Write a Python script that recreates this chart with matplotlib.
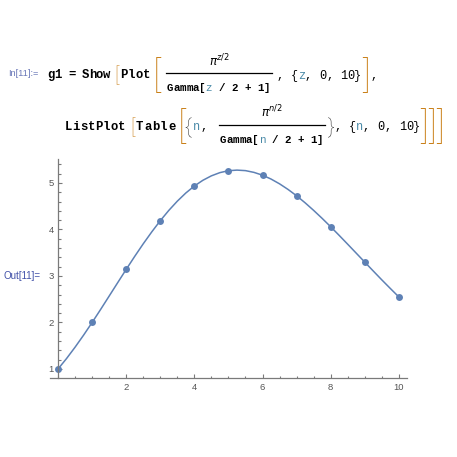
"""Mathematica notebook cell: unit-ball volume pi^(n/2)/Gamma(n/2+1)."""
import matplotlib
matplotlib.use("Agg")
import matplotlib.pyplot as plt
from matplotlib.ticker import MultipleLocator

W, H = 457, 457

# curve values, z = 0 .. 10 in steps of 0.25
curve_z = [i * 0.25 for i in range(41)]
curve_v = [1.000, 1.225, 1.469, 1.728, 2.000, 2.281, 2.568, 2.856,
           3.142, 3.422, 3.692, 3.948, 4.189, 4.410, 4.609, 4.785,
           4.935, 5.058, 5.154, 5.223, 5.264, 5.277, 5.266, 5.228,
           5.168, 5.085, 4.982, 4.861, 4.725, 4.574, 4.411, 4.239,
           4.059, 3.873, 3.683, 3.491, 3.299, 3.107, 2.917, 2.732,
           2.550]
# ListPlot points, n = 0 .. 10
pts_n = [0, 1, 2, 3, 4, 5, 6, 7, 8, 9, 10]
pts_v = [1.000, 2.000, 3.142, 4.189, 4.935, 5.264, 5.168, 4.725, 4.059,
         3.299, 2.550]
xticks = [2, 4, 6, 8, 10]
yticks = [1, 2, 3, 4, 5]

BLUE = "#5e81b5"
ORANGE = "#c97f16"
TEAL = "#4a8aa8"
MONO = "Liberation Mono"

fig = plt.figure(figsize=(W / 100, H / 100), dpi=100)
fig.patch.set_facecolor("white")


def P(x, y):
    return x / W, 1 - y / H


def txt(x, y, s, size=8.6, color="black", weight="bold", family=MONO,
        ha="left"):
    fig.text(*P(x, y), s, fontsize=size, color=color, weight=weight,
             family=family, ha=ha, va="center")


def mono(x, y, parts, pitch, size=8.8):
    # lay out (text, colour, weight) pieces one character at a time
    for s, color, weight in parts:
        for ch in s:
            if ch != " ":
                txt(x, y, ch, size=size, color=color, weight=weight)
            x += pitch


def bracket(x, y, ch, size, color=ORANGE):
    txt(x, y, ch, size=size, color=color, weight="light",
        family="Roboto", ha="center")


# ---- input cell text ----
txt(8, 74, "In[11]:=", size=6.6, color="#6a78b8", weight="normal",
    family="Liberation Sans")
mono(47, 75, [("g1 = Show", "black", "bold")], 7.0)
bracket(116, 76, "[", 14.5)
mono(120, 75, [("Plot", "black", "bold")], 7.6)
bracket(157, 77, "[", 26)
txt(219, 61, r"$\pi^{z/2}$", size=8.5, weight="normal",
    family="DejaVu Serif", ha="center")
fig.add_artist(plt.Line2D([166 / W, 272 / W], [1 - 73 / H, 1 - 73 / H],
                          color="black", lw=0.9))
mono(167, 88, [("Gamma[", "black", "bold"), ("z", TEAL, "normal"),
               (" / 2 + 1]", "black", "bold")], 6.45, size=7.8)
mono(277, 76, [(", ", "black", "normal"), ("{", "black", "normal"),
               ("z", TEAL, "normal"), (", 0, 10}", "black", "normal")],
     7.0, size=8.6)
bracket(366, 77, "]", 26)
txt(371, 76, ",", size=8.6, weight="normal")

mono(65, 127, [("ListPlot", "black", "bold")], 7.6)
bracket(132, 128, "[", 14.5)
mono(136, 127, [("Table", "black", "bold")], 8.0)
bracket(182, 128, "[", 26)
bracket(188, 128, "{", 15, color="#333333")
mono(193, 127, [("n", TEAL, "normal"), (",", "black", "normal")], 7.0,
     size=8.6)
txt(272, 112, r"$\pi^{n/2}$", size=8.5, weight="normal",
    family="DejaVu Serif", ha="center")
fig.add_artist(plt.Line2D([219 / W, 325 / W], [1 - 125 / H, 1 - 125 / H],
                          color="black", lw=0.9))
mono(220, 140, [("Gamma[", "black", "bold"), ("n", TEAL, "normal"),
                (" / 2 + 1]", "black", "bold")], 6.45, size=7.8)
bracket(330, 128, "}", 15, color="#333333")
mono(334, 127, [(", ", "black", "normal"), ("{", "black", "normal"),
                ("n", TEAL, "normal"), (", 0, 10}", "black", "normal")],
     7.2, size=8.6)
for bx in (424, 432, 440):
    bracket(bx, 128, "]", 26)

txt(4, 276, "Out[11]=", size=7, color="#4050a8", weight="normal",
    family="Liberation Sans")

# ---- the graphic ----
x0, x1 = -0.23, 10.24
y0, y1 = 0.806, 5.516
ax = fig.add_axes([50.2 / W, 1 - 378 / H, (407 - 50.2) / W, (378 - 159) / H])
ax.set_xlim(x0, x1)
ax.set_ylim(y0, y1)

ax.plot(curve_z, curve_v, color=BLUE, lw=1.1, solid_capstyle="round",
        clip_on=False)
ax.plot(pts_n, pts_v, "o", color=BLUE, ms=5, mec="none", clip_on=False)

axis_col = "#7a7a7a"
for s in ("top", "right"):
    ax.spines[s].set_visible(False)
ax.spines["left"].set_position(("data", 0))
for s in ("left", "bottom"):
    ax.spines[s].set_color(axis_col)
    ax.spines[s].set_linewidth(0.9)

ax.set_xticks(xticks)
ax.set_yticks(yticks)
ax.xaxis.set_minor_locator(MultipleLocator(0.5))
ax.yaxis.set_minor_locator(MultipleLocator(0.2))
ax.tick_params(which="both", direction="in", color=axis_col, width=0.8,
               labelsize=6.8, labelcolor="#555555")
ax.tick_params(which="major", length=3)
ax.tick_params(which="minor", length=1.8)
ax.tick_params(axis="x", pad=3.5)
ax.tick_params(axis="y", pad=3)
for lab in ax.get_xticklabels() + ax.get_yticklabels():
    lab.set_family("Liberation Sans")
ax.set_facecolor("none")

fig.savefig("out.png", dpi=100, facecolor="white")
